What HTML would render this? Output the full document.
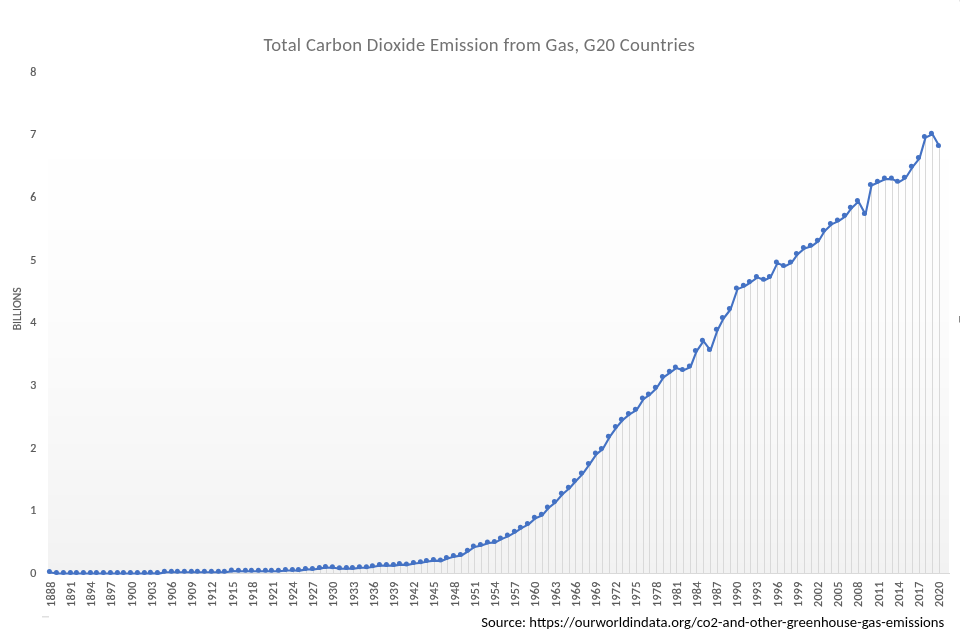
<!DOCTYPE html><html><head><meta charset="utf-8"><title>Total Carbon Dioxide Emission from Gas, G20 Countries</title>
<style>html,body{margin:0;padding:0;background:#fff;}body{width:960px;height:636px;overflow:hidden;}svg{display:block;will-change:transform;}text{font-family:Carlito, 'Liberation Sans', sans-serif;}</style></head><body>
<svg width="960" height="636" viewBox="0 0 960 636">
<rect width="960" height="636" fill="#fff"/>
<rect x="48.0" y="159" width="901.0" height="71.0" fill="#fefefe"/>
<rect x="48.0" y="230" width="901.0" height="50.0" fill="#fdfdfd"/>
<rect x="48.0" y="280" width="901.0" height="42.0" fill="#fcfcfc"/>
<rect x="48.0" y="322" width="901.0" height="36.0" fill="#fbfbfb"/>
<rect x="48.0" y="358" width="901.0" height="30.0" fill="#fafafa"/>
<rect x="48.0" y="388" width="901.0" height="28.0" fill="#f9f9f9"/>
<rect x="48.0" y="416" width="901.0" height="28.0" fill="#f8f8f8"/>
<rect x="48.0" y="444" width="901.0" height="26.0" fill="#f7f7f7"/>
<rect x="48.0" y="470" width="901.0" height="25.0" fill="#f6f6f6"/>
<rect x="48.0" y="495" width="901.0" height="24.0" fill="#f5f5f5"/>
<rect x="48.0" y="519" width="901.0" height="24.0" fill="#f4f4f4"/>
<rect x="48.0" y="543" width="901.0" height="20.0" fill="#f3f3f3"/>
<rect x="48.0" y="563" width="901.0" height="11.0" fill="#f2f2f2"/>
<path d="M50.5 572.5V574.0M57.5 573.5V574.0M64.5 573.5V574.0M71.5 573.5V574.0M77.5 573.5V574.0M84.5 573.5V574.0M91.5 573.5V574.0M97.5 573.5V574.0M104.5 573.5V574.0M111.5 573.5V574.0M118.5 573.5V574.0M124.5 573.5V574.0M131.5 573.5V574.0M138.5 573.5V574.0M145.5 573.5V574.0M151.5 573.3V574.0M158.5 573.6V574.0M165.5 572.2V574.0M172.5 572.2V574.0M178.5 572.2V574.0M185.5 572.2V574.0M192.5 572.2V574.0M198.5 572.2V574.0M205.5 572.2V574.0M212.5 572.2V574.0M219.5 572.2V574.0M225.5 572.2V574.0M232.5 571.1V574.0M239.5 571.2V574.0M246.5 571.2V574.0M252.5 571.3V574.0M259.5 571.2V574.0M266.5 571.2V574.0M272.5 571.3V574.0M279.5 571.3V574.0M286.5 570.5V574.0M293.5 570.5V574.0M299.5 570.6V574.0M306.5 569.4V574.0M313.5 569.5V574.0M320.5 568.4V574.0M326.5 567.5V574.0M333.5 567.8V574.0M340.5 568.8V574.0M347.5 568.6V574.0M353.5 568.6V574.0M360.5 567.8V574.0M367.5 567.8V574.0M373.5 566.8V574.0M380.5 565.5V574.0M387.5 565.6V574.0M394.5 565.6V574.0M400.5 564.6V574.0M407.5 564.9V574.0M414.5 563.5V574.0M421.5 562.8V574.0M427.5 561.5V574.0M434.5 560.6V574.0M441.5 560.9V574.0M447.5 558.6V574.0M454.5 556.6V574.0M461.5 555.5V574.0M468.5 551.2V574.0M474.5 547.0V574.0M481.5 545.4V574.0M488.5 543.0V574.0M495.5 542.4V574.0M501.5 539.1V574.0M508.5 536.1V574.0M515.5 532.2V574.0M521.5 528.2V574.0M528.5 524.4V574.0M535.5 518.2V574.0M542.5 515.2V574.0M548.5 508.0V574.0M555.5 502.4V574.0M562.5 494.2V574.0M569.5 488.3V574.0M575.5 481.5V574.0M582.5 474.1V574.0M589.5 464.4V574.0M596.5 454.1V574.0M602.5 449.4V574.0M609.5 437.2V574.0M616.5 427.4V574.0M622.5 420.3V574.0M629.5 414.4V574.0M636.5 410.2V574.0M643.5 399.1V574.0M649.5 395.0V574.0M656.5 388.2V574.0M663.5 377.4V574.0M670.5 372.3V574.0M676.5 368.0V574.0M683.5 370.4V574.0M690.5 367.0V574.0M696.5 351.4V574.0M703.5 341.2V574.0M710.5 350.4V574.0M717.5 330.2V574.0M723.5 318.5V574.0M730.5 309.5V574.0M737.5 289.1V574.0M744.5 286.3V574.0M750.5 282.5V574.0M757.5 277.4V574.0M764.5 280.2V574.0M770.5 277.4V574.0M777.5 262.9V574.0M784.5 266.5V574.0M791.5 262.9V574.0M797.5 254.4V574.0M804.5 248.5V574.0M811.5 246.3V574.0M818.5 241.2V574.0M824.5 231.2V574.0M831.5 224.4V574.0M838.5 221.1V574.0M845.5 216.3V574.0M851.5 208.2V574.0M858.5 201.6V574.0M865.5 214.4V574.0M871.5 185.5V574.0M878.5 182.3V574.0M885.5 179.1V574.0M892.5 179.1V574.0M898.5 182.3V574.0M905.5 178.2V574.0M912.5 167.2V574.0M919.5 158.4V574.0M925.5 137.6V574.0M932.5 134.2V574.0M939.5 146.5V574.0" stroke="#d9d9d9" stroke-width="1" fill="none"/>
<path d="M48.0 573.5H950.0" stroke="#d9d9d9" stroke-width="1"/>
<polyline points="50.50,572.50 57.50,573.50 64.50,573.50 71.50,573.50 77.50,573.50 84.50,573.50 91.50,573.50 97.50,573.50 104.50,573.50 111.50,573.50 118.50,573.50 124.50,573.50 131.50,573.50 138.50,573.50 145.50,573.50 151.50,573.30 158.50,573.60 165.50,572.20 172.50,572.20 178.50,572.20 185.50,572.20 192.50,572.20 198.50,572.20 205.50,572.20 212.50,572.20 219.50,572.20 225.50,572.20 232.50,571.10 239.50,571.20 246.50,571.20 252.50,571.30 259.50,571.20 266.50,571.20 272.50,571.30 279.50,571.30 286.50,570.50 293.50,570.50 299.50,570.60 306.50,569.40 313.50,569.50 320.50,568.40 326.50,567.50 333.50,567.75 340.50,568.75 347.50,568.60 353.50,568.60 360.50,567.75 367.50,567.75 373.50,566.75 380.50,565.50 387.50,565.60 394.50,565.60 400.50,564.60 407.50,564.90 414.50,563.50 421.50,562.75 427.50,561.50 434.50,560.60 441.50,560.90 447.50,558.60 454.50,556.60 461.50,555.50 468.50,551.20 474.50,547.00 481.50,545.40 488.50,543.00 495.50,542.40 501.50,539.10 508.50,536.10 515.50,532.20 521.50,528.20 528.50,524.40 535.50,518.20 542.50,515.20 548.50,508.00 555.50,502.40 562.50,494.20 569.50,488.30 575.50,481.50 582.50,474.10 589.50,464.40 596.50,454.10 602.50,449.40 609.50,437.20 616.50,427.40 622.50,420.30 629.50,414.40 636.50,410.20 643.50,399.10 649.50,395.00 656.50,388.20 663.50,377.40 670.50,372.30 676.50,368.00 683.50,370.40 690.50,367.00 696.50,351.40 703.50,341.20 710.50,350.40 717.50,330.20 723.50,318.50 730.50,309.50 737.50,289.10 744.50,286.30 750.50,282.50 757.50,277.40 764.50,280.20 770.50,277.40 777.50,262.90 784.50,266.50 791.50,262.90 797.50,254.40 804.50,248.50 811.50,246.30 818.50,241.20 824.50,231.20 831.50,224.40 838.50,221.10 845.50,216.30 851.50,208.20 858.50,201.60 865.50,214.40 871.50,185.50 878.50,182.30 885.50,179.10 892.50,179.10 898.50,182.30 905.50,178.20 912.50,167.20 919.50,158.40 925.50,137.60 932.50,134.20 939.50,146.50" fill="none" stroke="#4472C4" stroke-width="2.1" stroke-linejoin="round" stroke-linecap="round"/>
<g fill="#4472C4">
<circle cx="49.40" cy="571.50" r="2.5"/>
<circle cx="56.40" cy="572.50" r="2.5"/>
<circle cx="63.40" cy="572.50" r="2.5"/>
<circle cx="70.40" cy="572.50" r="2.5"/>
<circle cx="76.40" cy="572.50" r="2.5"/>
<circle cx="83.40" cy="572.50" r="2.5"/>
<circle cx="90.40" cy="572.50" r="2.5"/>
<circle cx="96.40" cy="572.50" r="2.5"/>
<circle cx="103.40" cy="572.50" r="2.5"/>
<circle cx="110.40" cy="572.50" r="2.5"/>
<circle cx="117.40" cy="572.50" r="2.5"/>
<circle cx="123.40" cy="572.50" r="2.5"/>
<circle cx="130.40" cy="572.50" r="2.5"/>
<circle cx="137.40" cy="572.50" r="2.5"/>
<circle cx="144.40" cy="572.50" r="2.5"/>
<circle cx="150.40" cy="572.30" r="2.5"/>
<circle cx="157.40" cy="572.60" r="2.5"/>
<circle cx="164.40" cy="571.20" r="2.5"/>
<circle cx="171.40" cy="571.20" r="2.5"/>
<circle cx="177.40" cy="571.20" r="2.5"/>
<circle cx="184.40" cy="571.20" r="2.5"/>
<circle cx="191.40" cy="571.20" r="2.5"/>
<circle cx="197.40" cy="571.20" r="2.5"/>
<circle cx="204.40" cy="571.20" r="2.5"/>
<circle cx="211.40" cy="571.20" r="2.5"/>
<circle cx="218.40" cy="571.20" r="2.5"/>
<circle cx="224.40" cy="571.20" r="2.5"/>
<circle cx="231.40" cy="570.10" r="2.5"/>
<circle cx="238.40" cy="570.20" r="2.5"/>
<circle cx="245.40" cy="570.20" r="2.5"/>
<circle cx="251.40" cy="570.30" r="2.5"/>
<circle cx="258.40" cy="570.20" r="2.5"/>
<circle cx="265.40" cy="570.20" r="2.5"/>
<circle cx="271.40" cy="570.30" r="2.5"/>
<circle cx="278.40" cy="570.30" r="2.5"/>
<circle cx="285.40" cy="569.50" r="2.5"/>
<circle cx="292.40" cy="569.50" r="2.5"/>
<circle cx="298.40" cy="569.60" r="2.5"/>
<circle cx="305.40" cy="568.40" r="2.5"/>
<circle cx="312.40" cy="568.50" r="2.5"/>
<circle cx="319.40" cy="567.40" r="2.5"/>
<circle cx="325.40" cy="566.50" r="2.5"/>
<circle cx="332.40" cy="566.75" r="2.5"/>
<circle cx="339.40" cy="567.75" r="2.5"/>
<circle cx="346.40" cy="567.60" r="2.5"/>
<circle cx="352.40" cy="567.60" r="2.5"/>
<circle cx="359.40" cy="566.75" r="2.5"/>
<circle cx="366.40" cy="566.75" r="2.5"/>
<circle cx="372.40" cy="565.75" r="2.5"/>
<circle cx="379.40" cy="564.50" r="2.5"/>
<circle cx="386.40" cy="564.60" r="2.5"/>
<circle cx="393.40" cy="564.60" r="2.5"/>
<circle cx="399.40" cy="563.60" r="2.5"/>
<circle cx="406.40" cy="563.90" r="2.5"/>
<circle cx="413.40" cy="562.50" r="2.5"/>
<circle cx="420.40" cy="561.75" r="2.5"/>
<circle cx="426.40" cy="560.50" r="2.5"/>
<circle cx="433.40" cy="559.60" r="2.5"/>
<circle cx="440.40" cy="559.90" r="2.5"/>
<circle cx="446.40" cy="557.60" r="2.5"/>
<circle cx="453.40" cy="555.60" r="2.5"/>
<circle cx="460.40" cy="554.50" r="2.5"/>
<circle cx="467.40" cy="550.20" r="2.5"/>
<circle cx="473.40" cy="546.00" r="2.5"/>
<circle cx="480.40" cy="544.40" r="2.5"/>
<circle cx="487.40" cy="542.00" r="2.5"/>
<circle cx="494.40" cy="541.40" r="2.5"/>
<circle cx="500.40" cy="538.10" r="2.5"/>
<circle cx="507.40" cy="535.10" r="2.5"/>
<circle cx="514.40" cy="531.20" r="2.5"/>
<circle cx="520.40" cy="527.20" r="2.5"/>
<circle cx="527.40" cy="523.40" r="2.5"/>
<circle cx="534.40" cy="517.20" r="2.5"/>
<circle cx="541.40" cy="514.20" r="2.5"/>
<circle cx="547.40" cy="507.00" r="2.5"/>
<circle cx="554.40" cy="501.40" r="2.5"/>
<circle cx="561.40" cy="493.20" r="2.5"/>
<circle cx="568.40" cy="487.30" r="2.5"/>
<circle cx="574.40" cy="480.50" r="2.5"/>
<circle cx="581.40" cy="473.10" r="2.5"/>
<circle cx="588.40" cy="463.40" r="2.5"/>
<circle cx="595.40" cy="453.10" r="2.5"/>
<circle cx="601.40" cy="448.40" r="2.5"/>
<circle cx="608.40" cy="436.20" r="2.5"/>
<circle cx="615.40" cy="426.40" r="2.5"/>
<circle cx="621.40" cy="419.30" r="2.5"/>
<circle cx="628.40" cy="413.40" r="2.5"/>
<circle cx="635.40" cy="409.20" r="2.5"/>
<circle cx="642.40" cy="398.10" r="2.5"/>
<circle cx="648.40" cy="394.00" r="2.5"/>
<circle cx="655.40" cy="387.20" r="2.5"/>
<circle cx="662.40" cy="376.40" r="2.5"/>
<circle cx="669.40" cy="371.30" r="2.5"/>
<circle cx="675.40" cy="367.00" r="2.5"/>
<circle cx="682.40" cy="369.40" r="2.5"/>
<circle cx="689.40" cy="366.00" r="2.5"/>
<circle cx="695.40" cy="350.40" r="2.5"/>
<circle cx="702.40" cy="340.20" r="2.5"/>
<circle cx="709.40" cy="349.40" r="2.5"/>
<circle cx="716.40" cy="329.20" r="2.5"/>
<circle cx="722.40" cy="317.50" r="2.5"/>
<circle cx="729.40" cy="308.50" r="2.5"/>
<circle cx="736.40" cy="288.10" r="2.5"/>
<circle cx="743.40" cy="285.30" r="2.5"/>
<circle cx="749.40" cy="281.50" r="2.5"/>
<circle cx="756.40" cy="276.40" r="2.5"/>
<circle cx="763.40" cy="279.20" r="2.5"/>
<circle cx="769.40" cy="276.40" r="2.5"/>
<circle cx="776.40" cy="261.90" r="2.5"/>
<circle cx="783.40" cy="265.50" r="2.5"/>
<circle cx="790.40" cy="261.90" r="2.5"/>
<circle cx="796.40" cy="253.40" r="2.5"/>
<circle cx="803.40" cy="247.50" r="2.5"/>
<circle cx="810.40" cy="245.30" r="2.5"/>
<circle cx="817.40" cy="240.20" r="2.5"/>
<circle cx="823.40" cy="230.20" r="2.5"/>
<circle cx="830.40" cy="223.40" r="2.5"/>
<circle cx="837.40" cy="220.10" r="2.5"/>
<circle cx="844.40" cy="215.30" r="2.5"/>
<circle cx="850.40" cy="207.20" r="2.5"/>
<circle cx="857.40" cy="200.60" r="2.5"/>
<circle cx="864.40" cy="213.40" r="2.5"/>
<circle cx="870.40" cy="184.50" r="2.5"/>
<circle cx="877.40" cy="181.30" r="2.5"/>
<circle cx="884.40" cy="178.10" r="2.5"/>
<circle cx="891.40" cy="178.10" r="2.5"/>
<circle cx="897.40" cy="181.30" r="2.5"/>
<circle cx="904.40" cy="177.20" r="2.5"/>
<circle cx="911.40" cy="166.20" r="2.5"/>
<circle cx="918.40" cy="157.40" r="2.5"/>
<circle cx="924.40" cy="136.60" r="2.5"/>
<circle cx="931.40" cy="133.20" r="2.5"/>
<circle cx="938.40" cy="145.50" r="2.5"/>
</g>
<text x="479.2" y="50.7" text-anchor="middle" font-size="18.67" textLength="431.3" lengthAdjust="spacing" fill="#727272">Total Carbon Dioxide Emission from Gas, G20 Countries</text>
<text x="36.4" y="576.80" text-anchor="end" font-size="12" fill="#595959" stroke="#595959" stroke-width="0.2">0</text>
<text x="36.4" y="514.16" text-anchor="end" font-size="12" fill="#595959" stroke="#595959" stroke-width="0.2">1</text>
<text x="36.4" y="451.52" text-anchor="end" font-size="12" fill="#595959" stroke="#595959" stroke-width="0.2">2</text>
<text x="36.4" y="388.88" text-anchor="end" font-size="12" fill="#595959" stroke="#595959" stroke-width="0.2">3</text>
<text x="36.4" y="326.24" text-anchor="end" font-size="12" fill="#595959" stroke="#595959" stroke-width="0.2">4</text>
<text x="36.4" y="263.60" text-anchor="end" font-size="12" fill="#595959" stroke="#595959" stroke-width="0.2">5</text>
<text x="36.4" y="200.96" text-anchor="end" font-size="12" fill="#595959" stroke="#595959" stroke-width="0.2">6</text>
<text x="36.4" y="138.32" text-anchor="end" font-size="12" fill="#595959" stroke="#595959" stroke-width="0.2">7</text>
<text x="36.4" y="75.68" text-anchor="end" font-size="12" fill="#595959" stroke="#595959" stroke-width="0.2">8</text>
<text transform="translate(20.8 308.8) rotate(-90)" text-anchor="middle" font-size="12" textLength="43" lengthAdjust="spacingAndGlyphs" fill="#595959" stroke="#595959" stroke-width="0.15">BILLIONS</text>
<text transform="translate(54.80 581.7) rotate(-90)" text-anchor="end" font-size="12" textLength="25.3" lengthAdjust="spacing" fill="#595959" stroke="#595959" stroke-width="0.2">1888</text>
<text transform="translate(74.99 581.7) rotate(-90)" text-anchor="end" font-size="12" textLength="25.3" lengthAdjust="spacing" fill="#595959" stroke="#595959" stroke-width="0.2">1891</text>
<text transform="translate(95.18 581.7) rotate(-90)" text-anchor="end" font-size="12" textLength="25.3" lengthAdjust="spacing" fill="#595959" stroke="#595959" stroke-width="0.2">1894</text>
<text transform="translate(115.37 581.7) rotate(-90)" text-anchor="end" font-size="12" textLength="25.3" lengthAdjust="spacing" fill="#595959" stroke="#595959" stroke-width="0.2">1897</text>
<text transform="translate(135.56 581.7) rotate(-90)" text-anchor="end" font-size="12" textLength="25.3" lengthAdjust="spacing" fill="#595959" stroke="#595959" stroke-width="0.2">1900</text>
<text transform="translate(155.75 581.7) rotate(-90)" text-anchor="end" font-size="12" textLength="25.3" lengthAdjust="spacing" fill="#595959" stroke="#595959" stroke-width="0.2">1903</text>
<text transform="translate(175.94 581.7) rotate(-90)" text-anchor="end" font-size="12" textLength="25.3" lengthAdjust="spacing" fill="#595959" stroke="#595959" stroke-width="0.2">1906</text>
<text transform="translate(196.13 581.7) rotate(-90)" text-anchor="end" font-size="12" textLength="25.3" lengthAdjust="spacing" fill="#595959" stroke="#595959" stroke-width="0.2">1909</text>
<text transform="translate(216.32 581.7) rotate(-90)" text-anchor="end" font-size="12" textLength="25.3" lengthAdjust="spacing" fill="#595959" stroke="#595959" stroke-width="0.2">1912</text>
<text transform="translate(236.51 581.7) rotate(-90)" text-anchor="end" font-size="12" textLength="25.3" lengthAdjust="spacing" fill="#595959" stroke="#595959" stroke-width="0.2">1915</text>
<text transform="translate(256.70 581.7) rotate(-90)" text-anchor="end" font-size="12" textLength="25.3" lengthAdjust="spacing" fill="#595959" stroke="#595959" stroke-width="0.2">1918</text>
<text transform="translate(276.89 581.7) rotate(-90)" text-anchor="end" font-size="12" textLength="25.3" lengthAdjust="spacing" fill="#595959" stroke="#595959" stroke-width="0.2">1921</text>
<text transform="translate(297.08 581.7) rotate(-90)" text-anchor="end" font-size="12" textLength="25.3" lengthAdjust="spacing" fill="#595959" stroke="#595959" stroke-width="0.2">1924</text>
<text transform="translate(317.27 581.7) rotate(-90)" text-anchor="end" font-size="12" textLength="25.3" lengthAdjust="spacing" fill="#595959" stroke="#595959" stroke-width="0.2">1927</text>
<text transform="translate(337.46 581.7) rotate(-90)" text-anchor="end" font-size="12" textLength="25.3" lengthAdjust="spacing" fill="#595959" stroke="#595959" stroke-width="0.2">1930</text>
<text transform="translate(357.65 581.7) rotate(-90)" text-anchor="end" font-size="12" textLength="25.3" lengthAdjust="spacing" fill="#595959" stroke="#595959" stroke-width="0.2">1933</text>
<text transform="translate(377.84 581.7) rotate(-90)" text-anchor="end" font-size="12" textLength="25.3" lengthAdjust="spacing" fill="#595959" stroke="#595959" stroke-width="0.2">1936</text>
<text transform="translate(398.03 581.7) rotate(-90)" text-anchor="end" font-size="12" textLength="25.3" lengthAdjust="spacing" fill="#595959" stroke="#595959" stroke-width="0.2">1939</text>
<text transform="translate(418.22 581.7) rotate(-90)" text-anchor="end" font-size="12" textLength="25.3" lengthAdjust="spacing" fill="#595959" stroke="#595959" stroke-width="0.2">1942</text>
<text transform="translate(438.41 581.7) rotate(-90)" text-anchor="end" font-size="12" textLength="25.3" lengthAdjust="spacing" fill="#595959" stroke="#595959" stroke-width="0.2">1945</text>
<text transform="translate(458.60 581.7) rotate(-90)" text-anchor="end" font-size="12" textLength="25.3" lengthAdjust="spacing" fill="#595959" stroke="#595959" stroke-width="0.2">1948</text>
<text transform="translate(478.79 581.7) rotate(-90)" text-anchor="end" font-size="12" textLength="25.3" lengthAdjust="spacing" fill="#595959" stroke="#595959" stroke-width="0.2">1951</text>
<text transform="translate(498.98 581.7) rotate(-90)" text-anchor="end" font-size="12" textLength="25.3" lengthAdjust="spacing" fill="#595959" stroke="#595959" stroke-width="0.2">1954</text>
<text transform="translate(519.17 581.7) rotate(-90)" text-anchor="end" font-size="12" textLength="25.3" lengthAdjust="spacing" fill="#595959" stroke="#595959" stroke-width="0.2">1957</text>
<text transform="translate(539.36 581.7) rotate(-90)" text-anchor="end" font-size="12" textLength="25.3" lengthAdjust="spacing" fill="#595959" stroke="#595959" stroke-width="0.2">1960</text>
<text transform="translate(559.55 581.7) rotate(-90)" text-anchor="end" font-size="12" textLength="25.3" lengthAdjust="spacing" fill="#595959" stroke="#595959" stroke-width="0.2">1963</text>
<text transform="translate(579.74 581.7) rotate(-90)" text-anchor="end" font-size="12" textLength="25.3" lengthAdjust="spacing" fill="#595959" stroke="#595959" stroke-width="0.2">1966</text>
<text transform="translate(599.93 581.7) rotate(-90)" text-anchor="end" font-size="12" textLength="25.3" lengthAdjust="spacing" fill="#595959" stroke="#595959" stroke-width="0.2">1969</text>
<text transform="translate(620.12 581.7) rotate(-90)" text-anchor="end" font-size="12" textLength="25.3" lengthAdjust="spacing" fill="#595959" stroke="#595959" stroke-width="0.2">1972</text>
<text transform="translate(640.31 581.7) rotate(-90)" text-anchor="end" font-size="12" textLength="25.3" lengthAdjust="spacing" fill="#595959" stroke="#595959" stroke-width="0.2">1975</text>
<text transform="translate(660.50 581.7) rotate(-90)" text-anchor="end" font-size="12" textLength="25.3" lengthAdjust="spacing" fill="#595959" stroke="#595959" stroke-width="0.2">1978</text>
<text transform="translate(680.69 581.7) rotate(-90)" text-anchor="end" font-size="12" textLength="25.3" lengthAdjust="spacing" fill="#595959" stroke="#595959" stroke-width="0.2">1981</text>
<text transform="translate(700.88 581.7) rotate(-90)" text-anchor="end" font-size="12" textLength="25.3" lengthAdjust="spacing" fill="#595959" stroke="#595959" stroke-width="0.2">1984</text>
<text transform="translate(721.07 581.7) rotate(-90)" text-anchor="end" font-size="12" textLength="25.3" lengthAdjust="spacing" fill="#595959" stroke="#595959" stroke-width="0.2">1987</text>
<text transform="translate(741.26 581.7) rotate(-90)" text-anchor="end" font-size="12" textLength="25.3" lengthAdjust="spacing" fill="#595959" stroke="#595959" stroke-width="0.2">1990</text>
<text transform="translate(761.45 581.7) rotate(-90)" text-anchor="end" font-size="12" textLength="25.3" lengthAdjust="spacing" fill="#595959" stroke="#595959" stroke-width="0.2">1993</text>
<text transform="translate(781.64 581.7) rotate(-90)" text-anchor="end" font-size="12" textLength="25.3" lengthAdjust="spacing" fill="#595959" stroke="#595959" stroke-width="0.2">1996</text>
<text transform="translate(801.83 581.7) rotate(-90)" text-anchor="end" font-size="12" textLength="25.3" lengthAdjust="spacing" fill="#595959" stroke="#595959" stroke-width="0.2">1999</text>
<text transform="translate(822.02 581.7) rotate(-90)" text-anchor="end" font-size="12" textLength="25.3" lengthAdjust="spacing" fill="#595959" stroke="#595959" stroke-width="0.2">2002</text>
<text transform="translate(842.21 581.7) rotate(-90)" text-anchor="end" font-size="12" textLength="25.3" lengthAdjust="spacing" fill="#595959" stroke="#595959" stroke-width="0.2">2005</text>
<text transform="translate(862.40 581.7) rotate(-90)" text-anchor="end" font-size="12" textLength="25.3" lengthAdjust="spacing" fill="#595959" stroke="#595959" stroke-width="0.2">2008</text>
<text transform="translate(882.59 581.7) rotate(-90)" text-anchor="end" font-size="12" textLength="25.3" lengthAdjust="spacing" fill="#595959" stroke="#595959" stroke-width="0.2">2011</text>
<text transform="translate(902.78 581.7) rotate(-90)" text-anchor="end" font-size="12" textLength="25.3" lengthAdjust="spacing" fill="#595959" stroke="#595959" stroke-width="0.2">2014</text>
<text transform="translate(922.97 581.7) rotate(-90)" text-anchor="end" font-size="12" textLength="25.3" lengthAdjust="spacing" fill="#595959" stroke="#595959" stroke-width="0.2">2017</text>
<text transform="translate(943.16 581.7) rotate(-90)" text-anchor="end" font-size="12" textLength="25.3" lengthAdjust="spacing" fill="#595959" stroke="#595959" stroke-width="0.2">2020</text>
<text x="481.3" y="626.9" font-size="14.67" textLength="463" lengthAdjust="spacing" fill="#000">Source: https://ourworldindata.org/co2-and-other-greenhouse-gas-emissions</text>
<rect x="42" y="616" width="7" height="1.5" fill="#e0e0e0"/>
<rect x="959" y="316" width="1" height="6.5" fill="#888"/>
<rect x="959" y="0" width="1" height="1.5" fill="#e4e4e4"/>
</svg></body></html>
